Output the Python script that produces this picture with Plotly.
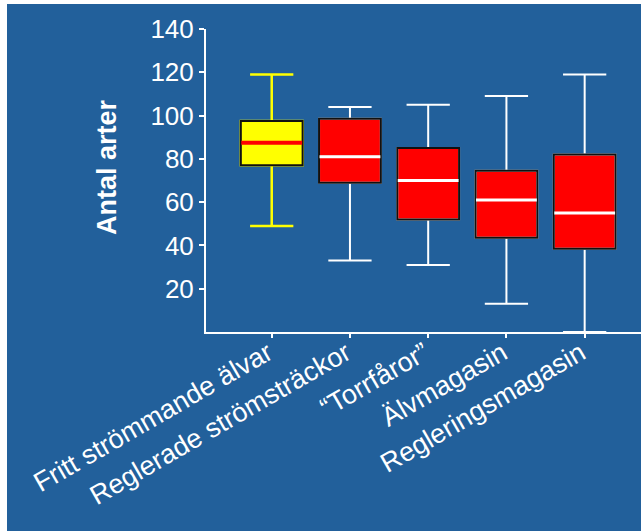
import plotly.graph_objects as go

# Species richness per river habitat type
categories = ["Fritt strömmande älvar", "Reglerade strömsträckor", "\u201cTorrfåror\u201d",
              "Älvmagasin", "Regleringsmagasin"]
upper = [119, 104, 105, 109, 119]
q3 = [97.5, 98.5, 85, 74.5, 82]
median = [87.5, 81, 70, 61, 55]
q1 = [77, 69, 52, 43.5, 38.5]
lower = [49, 33, 31, 13, 0]

fill_colors = ["#FFFF00", "#FF0000", "#FF0000", "#FF0000", "#FF0000"]
whisker_colors = ["#FFFF00", "#FFFFFF", "#FFFFFF", "#FFFFFF", "#FFFFFF"]
whisker_widths = [2.5, 2, 2, 2, 2]
median_colors = ["#FF0000", "#FFFFFF", "#FFFFFF", "#FFFFFF", "#FFFFFF"]
median_widths = [4, 3, 3, 3, 3]

y_ticks = [20, 40, 60, 80, 100, 120, 140]

BG = "#22609B"
FONT = "Liberation Sans, Arial, sans-serif"
W, H = 641, 531
L, R, T, B = 206, 0, 29, 199
BOX_W = 0.79

fig = go.Figure()
for i, cat in enumerate(categories):
    # whiskers, caps and box fill
    fig.add_trace(go.Box(
        x=[cat], q1=[q1[i]], median=[median[i]], q3=[q3[i]],
        lowerfence=[lower[i]], upperfence=[upper[i]],
        width=BOX_W, whiskerwidth=0.7, fillcolor=fill_colors[i],
        line=dict(color=whisker_colors[i], width=whisker_widths[i]),
        boxpoints=False, showlegend=False, hoverinfo="skip"))
    # black box outline
    fig.add_trace(go.Box(
        x=[cat], q1=[q1[i]], median=[median[i]], q3=[q3[i]],
        lowerfence=[q1[i]], upperfence=[q3[i]],
        width=BOX_W, whiskerwidth=0, fillcolor="rgba(0,0,0,0)",
        line=dict(color="#111111", width=2),
        boxpoints=False, showlegend=False, hoverinfo="skip"))
    # median bar
    fig.add_trace(go.Box(
        x=[cat], q1=[median[i]], median=[median[i]], q3=[median[i]],
        lowerfence=[median[i]], upperfence=[median[i]],
        width=BOX_W * 0.985, whiskerwidth=0, fillcolor="rgba(0,0,0,0)",
        line=dict(color=median_colors[i], width=median_widths[i]),
        boxpoints=False, showlegend=False, hoverinfo="skip"))

pw = W - L - R
ph = H - T - B

def px_x(p):
    return (p - L) / pw

def px_y(p):
    return (H - B - p) / ph

fig.update_layout(
    width=W, height=H,
    margin=dict(l=L, r=R, t=T, b=B, pad=0),
    paper_bgcolor="#FFFFFF",
    plot_bgcolor=BG,
    boxmode="overlay",
    font=dict(family=FONT, color="#FFFFFF", size=26),
    shapes=[dict(type="rect", xref="paper", yref="paper", layer="below",
                 x0=px_x(7), x1=px_x(W + 2), y0=px_y(H + 2), y1=px_y(4),
                 fillcolor=BG, line=dict(width=0))],
    annotations=[dict(text="<b>Antal arter</b>", textangle=-90,
                      xref="paper", yref="paper", x=px_x(107), y=px_y(167),
                      xanchor="center", yanchor="middle", showarrow=False,
                      font=dict(family=FONT, size=27, color="#FFFFFF"))],
)

fig.update_xaxes(
    type="category", range=[-0.84, 4.72],
    showline=True, linecolor="#FFFFFF", linewidth=2,
    ticks="outside", ticklen=4, tickcolor="#FFFFFF", tickwidth=1.5,
    tickangle=-30, ticklabelstandoff=-11, ticklabelshift=-4,
    tickfont=dict(size=27, color="#FFFFFF", family=FONT),
    showgrid=False, zeroline=False,
)
fig.update_yaxes(
    range=[0, 140], tickvals=y_ticks,
    showline=True, linecolor="#FFFFFF", linewidth=2,
    ticks="outside", ticklen=5, tickcolor="#FFFFFF", tickwidth=1.5,
    tickfont=dict(size=26, color="#FFFFFF", family=FONT),
    showgrid=False, zeroline=False,
)

fig.write_html("out.html")
